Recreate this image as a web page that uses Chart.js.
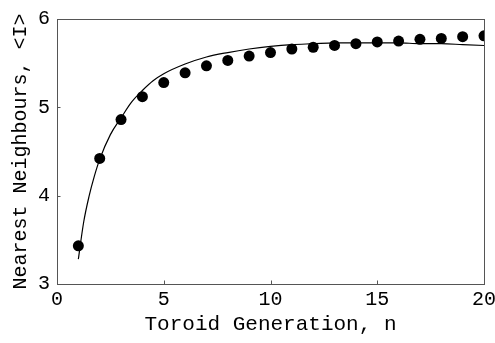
<!DOCTYPE html>
<html>
<head>
<meta charset="utf-8">
<script src="https://cdn.jsdelivr.net/npm/chart.js@4/dist/chart.umd.min.js"></script>
<style>
html,body{margin:0;padding:0;background:#fff;}
#wrap{width:495px;height:343px;position:relative;}
</style>
</head>
<body>
<div id="wrap"><canvas id="c" width="495" height="343"></canvas></div>
<script>
const generations = [1,2,3,4,5,6,7,8,9,10,11,12,13,14,15,16,17,18,19,20];
const neighbours = [3.43,4.42,4.86,5.12,5.28,5.39,5.47,5.53,5.58,5.62,5.66,5.68,5.70,5.72,5.74,5.75,5.77,5.78,5.80,5.81];
const fitN = [1,1.25,1.5,1.75,2,2.5,3,3.5,4,4.5,5,6,7,8,9,10,11,12,13,14,15,16,17,18,19,20];
const fitI = [3.28,3.70,3.99,4.22,4.41,4.69,4.88,5.06,5.19,5.30,5.38,5.49,5.57,5.62,5.66,5.69,5.71,5.72,5.73,5.73,5.73,5.73,5.72,5.72,5.71,5.70];
const xTicks = [0,5,10,15,20];
const yTicks = [3,4,5,6];

const FONT = "'Liberation Mono', 'DejaVu Sans Mono', monospace";

const frame = {
  id:'frame',
  afterDatasetsDraw(chart){
    const a = chart.chartArea, ctx = chart.ctx;
    const L = Math.round(a.left)+0.5, T = Math.round(a.top)+0.5;
    const R = Math.round(a.right)+0.5, B = Math.round(a.bottom)+0.5;
    ctx.save();
    ctx.strokeStyle = '#555';
    ctx.lineWidth = 1;
    ctx.strokeRect(L, T, R-L, B-T);
    ctx.beginPath();
    const xs = chart.scales.x, ys = chart.scales.y;
    xTicks.forEach(v=>{
      const px = Math.round(xs.getPixelForValue(v))+0.5;
      ctx.moveTo(px, B); ctx.lineTo(px, B-4);
    });
    yTicks.forEach(v=>{
      const py = Math.round(ys.getPixelForValue(v))+0.5;
      ctx.moveTo(L, py); ctx.lineTo(L+3, py);
    });
    ctx.stroke();
    ctx.restore();
  }
};

new Chart(document.getElementById('c'), {
  type:'scatter',
  data:{
    datasets:[
      {
        label:'fit',
        data: fitN.map((n,i)=>({x:n,y:fitI[i]})),
        showLine:true,
        borderColor:'#000',
        borderWidth:1.2,
        pointRadius:0,
        cubicInterpolationMode:'monotone',
        fill:false
      },
      {
        label:'data',
        data: generations.map((n,i)=>({x:n,y:neighbours[i]})),
        showLine:false,
        pointRadius:5.5,
        pointBackgroundColor:'#000',
        pointBorderColor:'#000',
        pointBorderWidth:0
      }
    ]
  },
  options:{
    responsive:false,
    animation:false,
    layout:{padding:{top:19,right:0,left:9,bottom:6}},
    plugins:{legend:{display:false},tooltip:{enabled:false}},
    scales:{
      x:{
        type:'linear', min:0, max:20,
        afterBuildTicks(s){ s.ticks = xTicks.map(v=>({value:v})); },
        afterFit(s){ s.paddingRight = 11; },
        grid:{display:true, drawOnChartArea:false, drawTicks:true, tickLength:4, color:'rgba(0,0,0,0)'},
        border:{display:false},
        ticks:{color:'#000', font:{family:FONT,size:20}, padding:0, maxRotation:0},
        title:{display:true, text:'Toroid Generation, n', color:'#000', font:{family:FONT,size:21}, padding:{top:0,bottom:0}}
      },
      y:{
        type:'linear', min:3, max:6,
        afterBuildTicks(s){ s.ticks = yTicks.map(v=>({value:v})); },
        grid:{display:true, drawOnChartArea:false, drawTicks:true, tickLength:4, color:'rgba(0,0,0,0)'},
        border:{display:false},
        ticks:{color:'#000', font:{family:FONT,size:20}, padding:3},
        title:{display:true, text:'Nearest Neighbours, <I>', color:'#000', font:{family:FONT,size:20}, padding:{top:0,bottom:2}}
      }
    }
  },
  plugins:[frame]
});
</script>
</body>
</html>
